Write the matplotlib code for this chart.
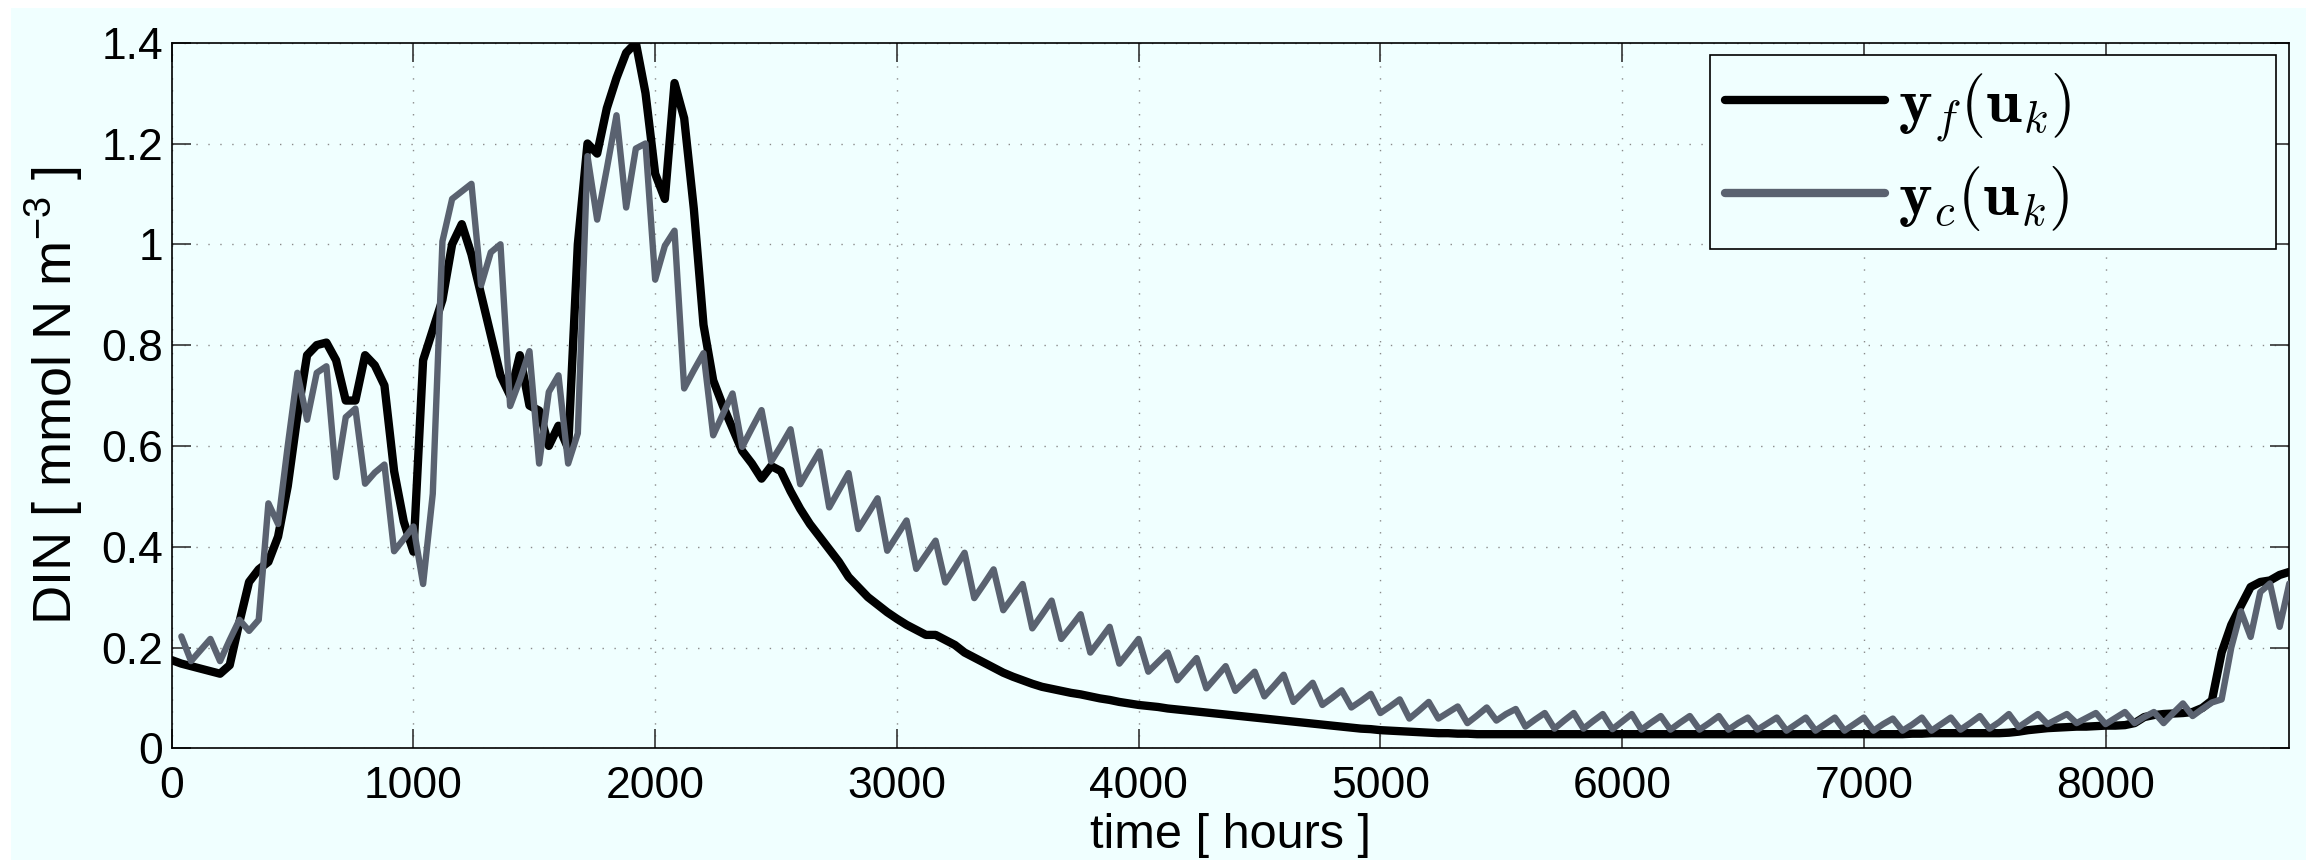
import numpy as np
import matplotlib
matplotlib.use("Agg")
import matplotlib.pyplot as plt
from matplotlib.patches import Rectangle
from matplotlib.font_manager import FontProperties
from matplotlib.ticker import FuncFormatter

# ---------------------------------------------------------------- data
# fine model output y_f(u_k), sampled every 40 h from t = 0 h
hours_f = np.arange(0, 8761, 40)
din_f = [
    0.175, 0.168, 0.163, 0.158, 0.153, 0.148, 0.165, 0.25, 0.33, 0.355,      # 0
    0.37, 0.42, 0.52, 0.66, 0.78, 0.80, 0.805, 0.77, 0.69, 0.69,             # 400
    0.78, 0.76, 0.72, 0.55, 0.45, 0.39, 0.77, 0.83, 0.89, 1.00,              # 800
    1.04, 0.98, 0.90, 0.82, 0.74, 0.70, 0.78, 0.68, 0.67, 0.60,              # 1200
    0.64, 0.595, 1.00, 1.20, 1.18, 1.27, 1.33, 1.38, 1.40, 1.30,             # 1600
    1.14, 1.09, 1.32, 1.25, 1.07, 0.84, 0.73, 0.68, 0.635, 0.59,             # 2000
    0.565, 0.535, 0.56, 0.55, 0.51, 0.475, 0.445, 0.42, 0.395, 0.37,         # 2400
    0.34, 0.32, 0.30, 0.285, 0.27, 0.257, 0.245, 0.235, 0.225, 0.225,        # 2800
    0.215, 0.205, 0.19, 0.18, 0.17, 0.16, 0.15, 0.142, 0.135, 0.128,         # 3200
    0.122, 0.118, 0.114, 0.11, 0.107, 0.103, 0.099, 0.096, 0.092, 0.089,     # 3600
    0.086, 0.084, 0.082, 0.079, 0.077, 0.075, 0.073, 0.071, 0.069, 0.067,    # 4000
    0.065, 0.063, 0.061, 0.059, 0.057, 0.055, 0.053, 0.051, 0.049, 0.047,    # 4400
    0.045, 0.043, 0.041, 0.039, 0.038, 0.036, 0.035, 0.034, 0.033, 0.032,    # 4800
    0.031, 0.030, 0.030, 0.029, 0.029, 0.028, 0.028, 0.028, 0.028, 0.028,    # 5200
    0.028, 0.028, 0.028, 0.028, 0.028, 0.028, 0.028, 0.028, 0.028, 0.028,    # 5600
    0.028, 0.028, 0.028, 0.028, 0.028, 0.028, 0.028, 0.028, 0.028, 0.028,    # 6000
    0.028, 0.028, 0.028, 0.028, 0.028, 0.028, 0.028, 0.028, 0.028, 0.028,    # 6400
    0.028, 0.028, 0.028, 0.028, 0.028, 0.028, 0.028, 0.028, 0.028, 0.028,    # 6800
    0.029, 0.029, 0.030, 0.030, 0.030, 0.030, 0.030, 0.030, 0.030, 0.030,    # 7200
    0.031, 0.033, 0.036, 0.038, 0.040, 0.041, 0.042, 0.043, 0.043, 0.044,    # 7600
    0.045, 0.045, 0.046, 0.050, 0.062, 0.066, 0.068, 0.069, 0.070, 0.072,    # 8000
    0.080, 0.095, 0.19, 0.245, 0.283, 0.32, 0.33, 0.333, 0.344, 0.35,        # 8400
]

# coarse model output y_c(u_k), sampled every 40 h from t = 40 h
hours_c = np.arange(40, 8761, 40)
din_c = [
    0.222, 0.173, 0.195,  0.217, 0.173, 0.215,  0.255, 0.233, 0.255,   # 40
    0.486, 0.445, 0.60,   0.745, 0.652, 0.745,  0.758, 0.538, 0.657,   # 400
    0.674, 0.525, 0.547,  0.563, 0.391, 0.415,  0.44, 0.326, 0.505,    # 760
    1.006, 1.09, 1.105,   1.12, 0.919, 0.984,   1.00, 0.679, 0.73,     # 1120
    0.788, 0.565, 0.707,  0.74, 0.565, 0.625,   1.175, 1.049, 1.15,    # 1480
    1.256, 1.073, 1.19,   1.20, 0.93, 0.997,    1.027, 0.714, 0.75,    # 1840
    0.784, 0.621, 0.663,  0.704, 0.598, 0.635,  0.671, 0.569, 0.60,    # 2200
    0.633, 0.524, 0.557,  0.589, 0.478, 0.512,  0.546, 0.435, 0.465,   # 2560
    0.496, 0.392, 0.422,  0.452, 0.356, 0.384,  0.412, 0.329, 0.358,   # 2920
    0.388, 0.298, 0.326,  0.355, 0.274, 0.300,  0.326, 0.238, 0.265,   # 3280
    0.293, 0.217, 0.241,  0.266, 0.19, 0.215,   0.241, 0.168, 0.192,   # 3640
    0.217, 0.152, 0.171,  0.19, 0.135, 0.157,   0.179, 0.119, 0.141,   # 4000
    0.163, 0.114, 0.133,  0.152, 0.103, 0.124,  0.146, 0.092, 0.111,   # 4360
    0.13, 0.086, 0.10,    0.115, 0.081, 0.094,  0.108, 0.07, 0.083,    # 4720
    0.097, 0.059, 0.075,  0.092, 0.059, 0.071,  0.083, 0.05, 0.065,    # 5080
    0.081, 0.055, 0.068,  0.078, 0.043, 0.057,  0.07, 0.039, 0.055,    # 5440
    0.07, 0.039, 0.054,   0.068, 0.038, 0.053,  0.068, 0.037, 0.051,   # 5800
    0.064, 0.037, 0.051,  0.064, 0.037, 0.050,  0.064, 0.037, 0.050,   # 6160
    0.061, 0.037, 0.049,  0.061, 0.035, 0.048,  0.061, 0.035, 0.048,   # 6520
    0.061, 0.035, 0.048,  0.061, 0.035, 0.048,  0.059, 0.035, 0.047,   # 6880
    0.061, 0.035, 0.048,  0.061, 0.037, 0.050,  0.064, 0.039, 0.052,   # 7240
    0.068, 0.042, 0.055,  0.068, 0.048, 0.058,  0.068, 0.05, 0.06,     # 7600
    0.07, 0.048, 0.06,    0.072, 0.05, 0.062,   0.072, 0.05, 0.07,     # 7960
    0.089, 0.064, 0.078,  0.091, 0.097, 0.20,   0.272, 0.221, 0.31,    # 8320
    0.327, 0.241, 0.327,                                               # 8680
]

x_ticks = [0, 1000, 2000, 3000, 4000, 5000, 6000, 7000, 8000]
y_ticks = [0, 0.2, 0.4, 0.6, 0.8, 1.0, 1.2, 1.4]
labels = [r'$\mathbf{y}_f(\mathbf{u}_k)$', r'$\mathbf{y}_c(\mathbf{u}_k)$']

# ---------------------------------------------------------------- style
BG = '#F0FFFF'
GRAY = '#5A6270'
FONT = 'Liberation Sans'
FS = 32

plt.rcParams['font.family'] = FONT
plt.rcParams['mathtext.fontset'] = 'custom'
plt.rcParams['mathtext.rm'] = FONT

W, H = 2306, 860
fig = plt.figure(figsize=(W / 100, H / 100), dpi=100, facecolor='white')
fig.add_artist(Rectangle((11 / W, 0), 1, 1 - 8 / H, transform=fig.transFigure,
                         facecolor=BG, edgecolor='none', zorder=-10))

ax = fig.add_axes([171.7 / W, 1 - 748.3 / H, (2289.3 - 171.7) / W, (748.3 - 42.7) / H])
ax.set_facecolor(BG)

line_f, = ax.plot(hours_f, din_f, color='black', lw=6.0,
                  solid_joinstyle='round', solid_capstyle='round', zorder=3)
line_c, = ax.plot(hours_c, din_c, color=GRAY, lw=4.6,
                  solid_joinstyle='round', solid_capstyle='round', zorder=4)

ax.set_xlim(0, 8760)
ax.set_ylim(0, 1.4)
ax.set_xticks(x_ticks)
ax.set_yticks(y_ticks)
ax.yaxis.set_major_formatter(FuncFormatter(lambda v, _: f'{v:g}'))

ax.set_axisbelow(True)
ax.grid(True, color='#8a8a8a', linestyle=(0, (1, 7.6)), linewidth=1.0)

for s in ax.spines.values():
    s.set_linewidth(1.2)
    s.set_color('black')

ax.tick_params(direction='in', length=14, width=1.2, color='#333333',
               top=True, right=True, labelsize=FS)
ax.tick_params(axis='x', pad=13)
ax.tick_params(axis='y', pad=6)

ax.set_xlabel('time [ hours ]', fontsize=35)
ax.xaxis.set_label_coords(0.5, -0.092)
ax.set_ylabel(r'DIN [ mmol N m$^{\mathregular{-3}}$ ]', fontsize=39)
ax.yaxis.set_label_coords(-0.041, 0.5)

leg = ax.legend([line_f, line_c], labels, loc='upper left',
                bbox_to_anchor=(0.7264, 0.7107, 0.2675, 0.2712), mode='expand',
                borderaxespad=0, prop=FontProperties(size=46, math_fontfamily='cm'),
                handlelength=2.5, handletextpad=0.21, borderpad=0.24,
                labelspacing=0.31, fancybox=False, framealpha=1,
                edgecolor='black', facecolor=BG)
leg.get_frame().set_linewidth(1.2)
for h in leg.legend_handles:
    h.set_linewidth(6)

fig.savefig('out.png', dpi=100, facecolor=fig.get_facecolor())
